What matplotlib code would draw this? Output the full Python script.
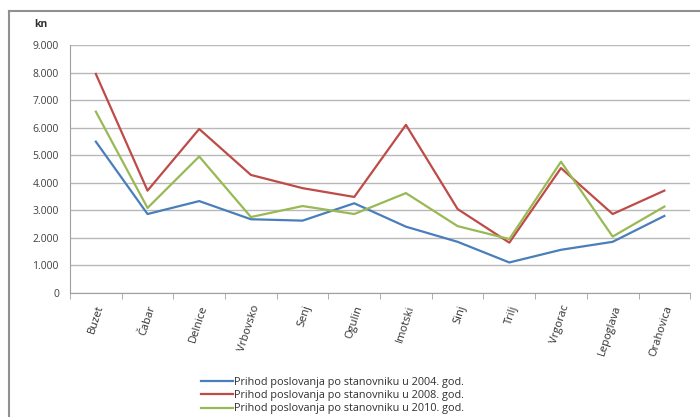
import matplotlib.pyplot as plt
import numpy as np
from matplotlib.lines import Line2D

plt.rcParams['font.family'] = ['Open Sans', 'DejaVu Sans']

# gradovi i prihod poslovanja po stanovniku (kn)
gradovi = ['Buzet', 'Čabar', 'Delnice', 'Vrbovsko', 'Senj', 'Ogulin',
           'Imotski', 'Sinj', 'Trilj', 'Vrgorac', 'Lepoglava', 'Orahovica']
prihod_2004 = [5490, 2860, 3330, 2670, 2620, 3250, 2400, 1850, 1100, 1560, 1850, 2790]
prihod_2008 = [7950, 3710, 5950, 4280, 3800, 3480, 6100, 3040, 1820, 4530, 2860, 3710]
prihod_2010 = [6580, 3080, 4950, 2750, 3150, 2860, 3620, 2420, 1950, 4760, 2040, 3130]
oznake = ['Prihod poslovanja po stanovniku u 2004. god.',
          'Prihod poslovanja po stanovniku u 2008. god.',
          'Prihod poslovanja po stanovniku u 2010. god.']
boje = ['#4a7ebb', '#be4b48', '#98b954']

fig = plt.figure(figsize=(7, 4.17), dpi=100)
ax = fig.add_axes([0.1, 0.298, 0.886, 0.594])

x = np.arange(len(gradovi))
for vals, lab, c in zip([prihod_2004, prihod_2008, prihod_2010], oznake, boje):
    ax.plot(x, vals, color=c, lw=1.6, label=lab)

ax.set_xlim(-0.5, len(gradovi) - 0.5)
ax.set_ylim(0, 9000)
ax.set_yticks(np.arange(0, 9001, 1000))
ax.set_yticklabels(['{:,}'.format(v).replace(',', '.') for v in range(0, 9001, 1000)],
                   fontsize=7.5, color='#404040')
ax.grid(axis='y', color='#b8b8b8', lw=1)
ax.set_axisbelow(True)

ax.set_xticks(x)
ax.set_xticklabels(gradovi, rotation=72, ha='right', va='top', rotation_mode='anchor',
                   fontsize=8, color='#303030')
ax.set_xticks(np.arange(-0.5, len(gradovi), 1), minor=True)
ax.tick_params(axis='x', which='major', length=0, pad=8)
ax.tick_params(axis='x', which='minor', length=4, color='#a0a0a0')
ax.tick_params(axis='y', length=0, pad=8)

for s in ['top', 'right']:
    ax.spines[s].set_visible(False)
ax.spines['left'].set_color('#a0a0a0')
ax.spines['bottom'].set_color('#a0a0a0')

fig.text(0.058, 0.935, 'kn', fontsize=7.5, fontweight='bold', color='#303030', ha='center')

# okvir grafikona
fig.add_artist(Line2D([9 / 700, 9 / 700], [0, 1 - 11 / 417], transform=fig.transFigure,
                      color='#909090', lw=1.5))
fig.add_artist(Line2D([9 / 700, 1], [1 - 11 / 417, 1 - 11 / 417], transform=fig.transFigure,
                      color='#909090', lw=1.5))

fig.legend(loc='lower center', bbox_to_anchor=(0.475, -0.012), frameon=False, fontsize=7.8,
           handlelength=3.0, labelspacing=0.2, handletextpad=0.1, borderpad=0.2,
           labelcolor='#303030')

fig.savefig('out.png', dpi=100)
